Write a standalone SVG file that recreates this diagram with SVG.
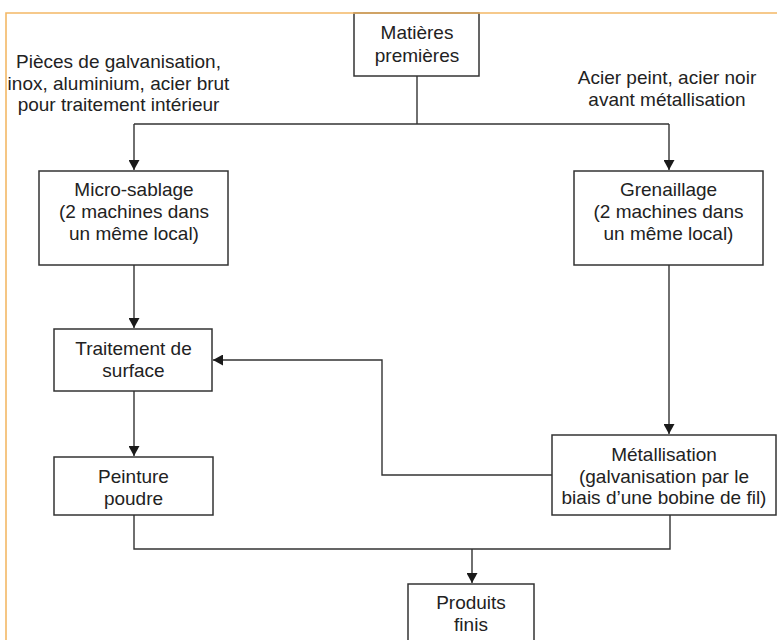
<svg xmlns="http://www.w3.org/2000/svg" width="777" height="640" viewBox="0 0 777 640">
<defs>
<marker id="arr" viewBox="0 0 10 11" refX="10" refY="5.5" markerWidth="10" markerHeight="11" markerUnits="userSpaceOnUse" orient="auto">
<path d="M0,0 L10,5.5 L0,11 Z" fill="#1a1a1a"/>
</marker>
<style>
.box{fill:#fff;stroke:#333;stroke-width:1.5}
.t{font-family:"Liberation Sans",Arial,sans-serif;font-size:19px;fill:#222;text-anchor:middle}
.c{fill:none;stroke:#333;stroke-width:1.4}
.a{marker-end:url(#arr)}
</style>
</defs>
<rect width="777" height="640" fill="#fff"/>
<g id="connectors">
<path class="c" d="M417,76 V124"/>
<path class="c" d="M134,124 H669"/>
<path class="c a" d="M134,124 V170"/>
<path class="c a" d="M669,124 V170"/>
<path class="c a" d="M134,265 V328"/>
<path class="c a" d="M669,265 V434"/>
<path class="c a" d="M134,391 V456"/>
<path class="c a" d="M552,475 H382 V360 H213"/>
<path class="c" d="M134,515 V549 H670 V515"/>
<path class="c a" d="M472,549 V583"/>
</g>
<g id="matieres">
<rect class="box" x="354" y="13" width="125" height="63"/>
<text class="t" x="417" y="39">Matières</text>
<text class="t" x="417" y="62">premières</text>
</g>
<g id="label-gauche">
<text class="t" x="118.5" y="68">Pièces de galvanisation,</text>
<text class="t" x="118.5" y="90">inox, aluminium, acier brut</text>
<text class="t" x="118.5" y="111">pour traitement intérieur</text>
</g>
<g id="label-droite">
<text class="t" x="667" y="84">Acier peint, acier noir</text>
<text class="t" x="667" y="106">avant métallisation</text>
</g>
<g id="micro-sablage">
<rect class="box" x="39" y="171" width="189" height="94"/>
<text class="t" x="134" y="196">Micro-sablage</text>
<text class="t" x="134" y="218">(2 machines dans</text>
<text class="t" x="134" y="240">un même local)</text>
</g>
<g id="grenaillage">
<rect class="box" x="574" y="171" width="189" height="94"/>
<text class="t" x="668.5" y="196">Grenaillage</text>
<text class="t" x="668.5" y="218">(2 machines dans</text>
<text class="t" x="668.5" y="240">un même local)</text>
</g>
<g id="traitement">
<rect class="box" x="54" y="329" width="158" height="62"/>
<text class="t" x="133.5" y="355">Traitement de</text>
<text class="t" x="133.5" y="377">surface</text>
</g>
<g id="peinture">
<rect class="box" x="54" y="457" width="159" height="58"/>
<text class="t" x="133.5" y="483">Peinture</text>
<text class="t" x="133.5" y="505">poudre</text>
</g>
<g id="metallisation">
<rect class="box" x="552" y="435" width="224" height="80"/>
<text class="t" x="664" y="461">Métallisation</text>
<text class="t" x="664" y="483">(galvanisation par le</text>
<text class="t" x="664" y="504">biais d’une bobine de fil)</text>
</g>
<g id="produits">
<rect class="box" x="408" y="584" width="126" height="70"/>
<text class="t" x="471" y="609">Produits</text>
<text class="t" x="471" y="631">finis</text>
</g>
<path d="M6,640 V13 H777" fill="none" stroke="#f3b866" stroke-width="1.6"/>
</svg>
